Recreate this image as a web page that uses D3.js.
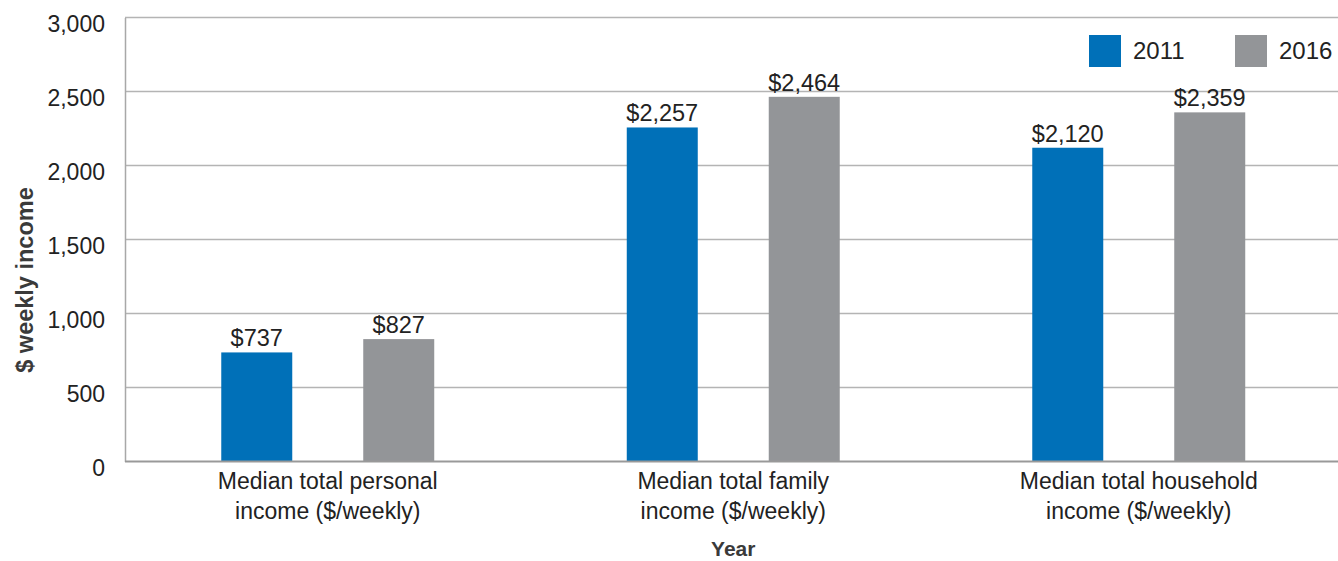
<!DOCTYPE html>
<html>
<head>
<meta charset="utf-8">
<script src="https://cdn.jsdelivr.net/npm/d3@7"></script>
<style>
  html, body { margin: 0; padding: 0; background: #fff; }
  svg { display: block; font-family: "Liberation Sans", Arial, Helvetica, sans-serif; }
</style>
</head>
<body>
<svg id="chart" width="1338" height="561"></svg>
<script>
// Weekly income figures by census year
const categories = [
  ["Median total personal", "income ($/weekly)"],
  ["Median total family", "income ($/weekly)"],
  ["Median total household", "income ($/weekly)"]
];
const years = ["2011", "2016"];
const values2011 = [737, 2257, 2120];
const values2016 = [827, 2464, 2359];
const yTicks = [0, 500, 1000, 1500, 2000, 2500, 3000];
const colors = { "2011": "#0070b8", "2016": "#939598" };

const series = { "2011": values2011, "2016": values2016 };

const svg = d3.select("#chart");
const plotLeft = 125, plotRight = 1341.5, plotTop = 17.5, plotBottom = 461.5;

const catKeys = categories.map((d, i) => i);
const x0 = d3.scaleBand().domain(catKeys).range([plotLeft, plotRight]).padding(0);
const x1 = d3.scaleBand().domain(years).range([0, x0.bandwidth()])
  .paddingInner(0.5).paddingOuter(0.678);
const y = d3.scaleLinear().domain([0, 3000]).range([plotBottom, plotTop]);

// Horizontal gridlines
svg.append("g")
  .selectAll("line")
  .data(yTicks.filter(t => t > 0))
  .join("line")
  .attr("x1", plotLeft).attr("x2", 1338)
  .attr("y1", d => y(d)).attr("y2", d => y(d))
  .attr("stroke", "#b4b4b4").attr("stroke-width", 1.5);

// Y axis
const yAxis = svg.append("g")
  .attr("transform", `translate(${plotLeft},0)`)
  .call(d3.axisLeft(y).tickValues(yTicks).tickSize(0).tickPadding(20)
    .tickFormat(d3.format(",")));
yAxis.select(".domain").attr("stroke", "#a8a8a8").attr("stroke-width", 1.5);
yAxis.selectAll("text")
  .attr("font-size", 23)
  .attr("fill", "#222")
  .attr("dy", 14)
  .style("font-family", "inherit");

// Bars
const groups = svg.append("g")
  .selectAll("g")
  .data(catKeys)
  .join("g")
  .attr("transform", d => `translate(${x0(d)},0)`);

groups.selectAll("rect")
  .data(i => years.map(yr => ({ yr, v: series[yr][i] })))
  .join("rect")
  .attr("x", d => x1(d.yr))
  .attr("width", x1.bandwidth())
  .attr("y", d => y(d.v))
  .attr("height", d => y(0) - y(d.v))
  .attr("fill", d => colors[d.yr]);

// Value labels
groups.selectAll("text.val")
  .data(i => years.map(yr => ({ yr, v: series[yr][i] })))
  .join("text")
  .attr("class", "val")
  .attr("x", d => x1(d.yr) + x1.bandwidth() / 2)
  .attr("y", d => y(d.v) - 6)
  .attr("text-anchor", "middle")
  .attr("font-size", 23.5)
  .attr("fill", "#222")
  .text(d => "$" + d3.format(",")(d.v));

// X axis baseline
svg.append("line")
  .attr("x1", plotLeft).attr("x2", 1338)
  .attr("y1", y(0)).attr("y2", y(0))
  .attr("stroke", "#999").attr("stroke-width", 2);

// Category labels (two lines)
const catLabels = svg.append("g")
  .selectAll("text")
  .data(catKeys)
  .join("text")
  .attr("x", d => x0(d) + x0.bandwidth() / 2)
  .attr("y", plotBottom + 27)
  .attr("text-anchor", "middle")
  .attr("font-size", 23)
  .attr("fill", "#222");
catLabels.selectAll("tspan")
  .data(d => categories[d])
  .join("tspan")
  .attr("x", function () { return d3.select(this.parentNode).attr("x"); })
  .attr("dy", (d, i) => i === 0 ? 0 : 30)
  .text(d => d);

// Axis titles
svg.append("text")
  .attr("x", x0(1) + x0.bandwidth() / 2)
  .attr("y", 556)
  .attr("text-anchor", "middle")
  .attr("font-size", 21)
  .attr("font-weight", "bold")
  .attr("fill", "#3a3a3a")
  .text("Year");

svg.append("text")
  .attr("transform", "translate(33,280) rotate(-90)")
  .attr("text-anchor", "middle")
  .attr("font-size", 23.5)
  .attr("font-weight", "bold")
  .attr("fill", "#3a3a3a")
  .text("$ weekly income");

// Legend
const legend = svg.append("g")
  .selectAll("g")
  .data(years)
  .join("g")
  .attr("transform", (d, i) => `translate(${1089 + i * 146},35)`);
legend.append("rect")
  .attr("width", 32).attr("height", 32)
  .attr("fill", d => colors[d]);
legend.append("text")
  .attr("x", 44).attr("y", 24)
  .attr("font-size", 24)
  .attr("fill", "#222")
  .text(d => d);
</script>
</body>
</html>
